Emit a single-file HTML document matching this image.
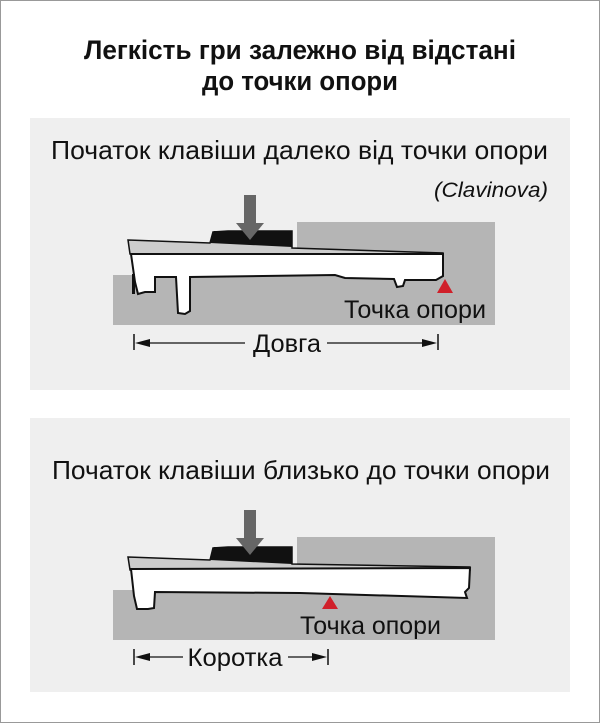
<!DOCTYPE html>
<html><head><meta charset="utf-8"><style>
html,body{margin:0;padding:0;background:#fff}
svg{display:block}
text{font-family:"Liberation Sans",sans-serif;fill:#111}
</style></head><body>
<svg width="600" height="723" viewBox="0 0 600 723" xmlns="http://www.w3.org/2000/svg">
<rect x="0.5" y="0.5" width="599" height="722" fill="#fff" stroke="#999"/>
<text x="300" y="59" text-anchor="middle" font-size="27" font-weight="bold" textLength="432" lengthAdjust="spacingAndGlyphs">Легкість гри залежно від відстані</text>
<text x="300" y="90" text-anchor="middle" font-size="27" font-weight="bold" textLength="196" lengthAdjust="spacingAndGlyphs">до точки опори</text>

<rect x="30" y="118" width="540" height="272" fill="#efefef"/>
<rect x="30" y="418" width="540" height="274" fill="#efefef"/>

<text x="51" y="159" font-size="26" textLength="497" lengthAdjust="spacingAndGlyphs">Початок клавіши далеко від точки опори</text>
<text x="548" y="197" text-anchor="end" font-size="21" font-style="italic" textLength="114" lengthAdjust="spacingAndGlyphs">(Clavinova)</text>

<!-- top diagram -->
<path d="M113 275 H297 V222 H495 V325 H113 Z" fill="#b5b5b5"/>
<polygon points="128,240 210,243 213,232 228,231 292,231 292,248 443,253 443,256 130,254" fill="#ccc" stroke="#111" stroke-width="1.5"/>
<polygon points="210,243 214,231 292,231 292,247" fill="#111"/>
<path d="M131 254 L443 254 L443 276 L436 280 L405 280 L403 286 L397 287 L394 279 L345 278 L335 275 L190 277 L190 311 L185 314 L178 313 L176 277 L155 277 L155 292 L145 292 L138 294 L135 282 Z" fill="#fff" stroke="#111" stroke-width="2"/>
<rect x="132" y="274" width="3" height="20" fill="#111"/>
<rect x="244" y="195" width="12" height="30" fill="#666"/>
<polygon points="236,223 264,223 250,240" fill="#666"/>
<polygon points="445,279 437,293 453,293" fill="#d0202a"/>
<text x="344" y="318" font-size="25" textLength="142" lengthAdjust="spacingAndGlyphs">Точка опори</text>
<line x1="134" y1="334" x2="134" y2="350" stroke="#111" stroke-width="1.5"/>
<line x1="438" y1="334" x2="438" y2="350" stroke="#111" stroke-width="1.5"/>
<line x1="140" y1="343" x2="245" y2="343" stroke="#111" stroke-width="1.3"/>
<line x1="327" y1="343" x2="425" y2="343" stroke="#111" stroke-width="1.3"/>
<polygon points="135,343 150,339 150,347" fill="#111"/>
<polygon points="437,343 422,339 422,347" fill="#111"/>
<text x="287" y="352" text-anchor="middle" font-size="25" textLength="68" lengthAdjust="spacingAndGlyphs">Довга</text>

<!-- bottom panel -->
<text x="52" y="479" font-size="26" textLength="498" lengthAdjust="spacingAndGlyphs">Початок клавіши близько до точки опори</text>
<path d="M113 590 H297 V537 H495 V640 H113 Z" fill="#b5b5b5"/>
<polygon points="128,557 210,560 213,548 228,547 292,547 292,564 470,567 470,570 130,570" fill="#ccc" stroke="#111" stroke-width="1.5"/>
<polygon points="210,560 214,547 292,547 292,564" fill="#111"/>
<path d="M131 569 L470 568 L469 588 L465 592 L467 598 L300 593 L155 592 L154 608 L148 609 L137 609 L134 596 Z" fill="#fff" stroke="#111" stroke-width="2"/>
<rect x="244" y="510" width="12" height="30" fill="#666"/>
<polygon points="236,538 264,538 250,555" fill="#666"/>
<polygon points="330,596 322,609 338,609" fill="#d0202a"/>
<text x="300" y="634" font-size="25" textLength="141" lengthAdjust="spacingAndGlyphs">Точка опори</text>
<line x1="134" y1="649" x2="134" y2="665" stroke="#111" stroke-width="1.5"/>
<line x1="328" y1="649" x2="328" y2="665" stroke="#111" stroke-width="1.5"/>
<line x1="140" y1="657" x2="183" y2="657" stroke="#111" stroke-width="1.3"/>
<line x1="288" y1="657" x2="320" y2="657" stroke="#111" stroke-width="1.3"/>
<polygon points="135,657 150,653 150,661" fill="#111"/>
<polygon points="327,657 312,653 312,661" fill="#111"/>
<text x="235" y="666" text-anchor="middle" font-size="25" textLength="95" lengthAdjust="spacingAndGlyphs">Коротка</text>
</svg>
</body></html>
